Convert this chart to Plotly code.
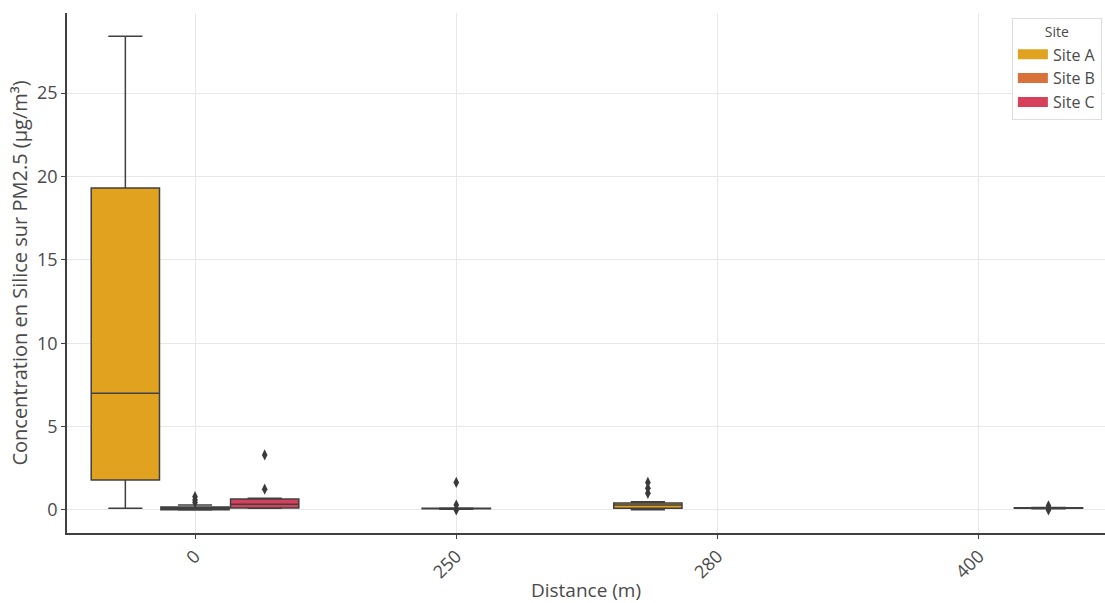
import plotly.graph_objects as go

# Distance categories (x axis) and sites (hue)
distances = ["0", "250", "280", "400"]
sites = ["Site A", "Site B", "Site C"]
site_colors = ["#e0a21f", "#d9713a", "#d7405a"]

# Box statistics per site: distance, lower whisker, Q1, median, Q3, upper whisker
site_a_dist = ["0", "280"]
site_a_low = [0.1, 0.02]
site_a_q1 = [1.8, 0.1]
site_a_med = [7.0, 0.3]
site_a_q3 = [19.3, 0.42]
site_a_high = [28.4, 0.5]
site_a_out_dist = ["280", "280", "280"]
site_a_out = [1.0, 1.3, 1.65]

site_b_dist = ["0", "250"]
site_b_low = [0.0, 0.05]
site_b_q1 = [0.02, 0.08]
site_b_med = [0.1, 0.08]
site_b_q3 = [0.18, 0.1]
site_b_high = [0.3, 0.12]
site_b_out_dist = ["0", "0", "0", "250", "250", "250"]
site_b_out = [0.45, 0.6, 0.8, 0.0, 0.3, 1.65]

site_c_dist = ["0", "400"]
site_c_low = [0.1, 0.08]
site_c_q1 = [0.12, 0.1]
site_c_med = [0.35, 0.12]
site_c_q3 = [0.66, 0.13]
site_c_high = [0.7, 0.15]
site_c_out_dist = ["0", "0", "400", "400"]
site_c_out = [1.25, 3.3, 0.0, 0.25]

stats = [
    (site_a_dist, site_a_low, site_a_q1, site_a_med, site_a_q3, site_a_high, site_a_out_dist, site_a_out),
    (site_b_dist, site_b_low, site_b_q1, site_b_med, site_b_q3, site_b_high, site_b_out_dist, site_b_out),
    (site_c_dist, site_c_low, site_c_q1, site_c_med, site_c_q3, site_c_high, site_c_out_dist, site_c_out),
]

group_width = 0.8
box_w = group_width / len(sites)
offsets = [(i - (len(sites) - 1) / 2) * box_w for i in range(len(sites))]

edge = "#404040"
text_col = "#4a4a4a"
font_family = "Open Sans, Noto Sans, DejaVu Sans, sans-serif"

fig = go.Figure()

for i, (dist, low, q1, med, q3, high, odist, oval) in enumerate(stats):
    pos = [distances.index(d) + offsets[i] for d in dist]
    fig.add_trace(go.Box(
        x=pos, q1=q1, median=med, q3=q3, lowerfence=low, upperfence=high,
        width=box_w * 0.98, whiskerwidth=0.5,
        fillcolor=site_colors[i],
        line=dict(color=edge, width=1.5),
        boxpoints=False, showlegend=False, hoverinfo="skip",
    ))
    fig.add_trace(go.Scatter(
        x=[distances.index(d) + offsets[i] for d in odist], y=oval,
        mode="markers",
        marker=dict(symbol="diamond-tall", size=8, color="#3a3a3a"),
        showlegend=False, hoverinfo="skip",
    ))

# Legend swatches
for name, col in zip(sites, site_colors):
    fig.add_trace(go.Scatter(
        x=[None], y=[None], mode="lines", name=name,
        line=dict(color=col, width=10),
    ))

fig.update_layout(
    width=1105, height=603,
    margin=dict(l=67, r=0, t=13, b=70),
    plot_bgcolor="white", paper_bgcolor="white",
    font=dict(family=font_family, color=text_col, size=16),
    legend=dict(
        title=dict(text="Site", side="top center", font=dict(size=14)),
        x=0.997, y=0.99, xanchor="right", yanchor="top",
        bgcolor="white", bordercolor="#dddddd", borderwidth=1,
        font=dict(size=16), itemwidth=30, tracegroupgap=2,
    ),
)

fig.update_xaxes(
    range=[-0.49, 3.483], automargin=False,
    tickvals=list(range(len(distances))), ticktext=distances,
    tickangle=-45, ticks="outside", ticklen=4, tickcolor=edge,
    showline=True, linecolor=edge, linewidth=1.5,
    showgrid=True, gridcolor="#e8e8e8", gridwidth=1, zeroline=False,
    title=dict(text="Distance (m)", font=dict(size=19), standoff=4),
    tickfont=dict(size=18),
)
fig.update_yaxes(
    range=[-1.38, 29.8], automargin=False,
    tickvals=[0, 5, 10, 15, 20, 25],
    ticks="outside", ticklen=4, tickcolor=edge,
    showline=True, linecolor=edge, linewidth=1.5,
    showgrid=True, gridcolor="#e8e8e8", gridwidth=1, zeroline=False,
    title=dict(text="Concentration en Silice sur PM2.5 (µg/m³)", font=dict(size=20), standoff=4),
    tickfont=dict(size=18),
)

fig.write_html("out.html")
